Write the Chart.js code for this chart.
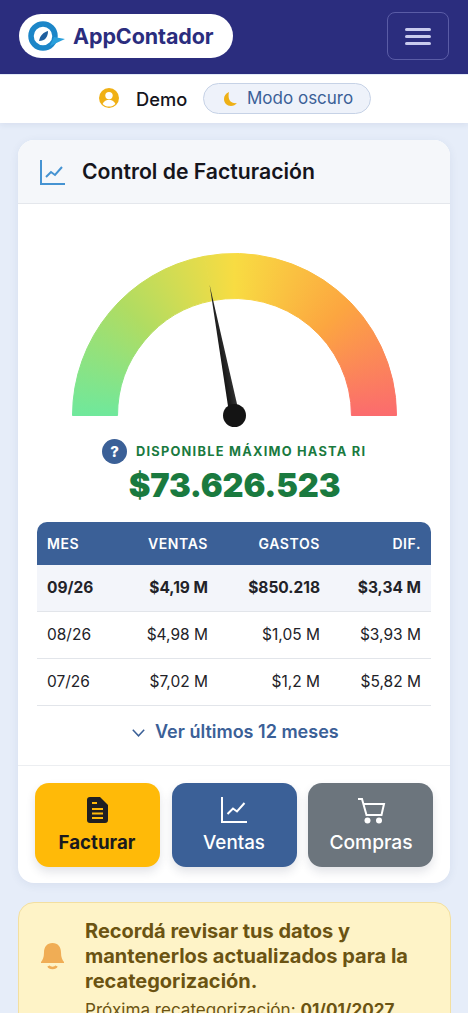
<!DOCTYPE html>
<html lang="es"><head><meta charset="utf-8">
<script src="https://cdn.jsdelivr.net/npm/chart.js@4"></script>
<style>
html,body{margin:0;padding:0}
body{width:468px;height:1013px;overflow:hidden;background:#e6edf9;position:relative;font-family:Inter,"Noto Sans",sans-serif;color:#15151c}
.b{position:absolute}
.t{position:absolute;white-space:nowrap;transform:translateY(-50%);line-height:1}
.r{transform:translate(-100%,-50%)}
.c{transform:translate(-50%,-50%)}
svg{position:absolute;overflow:visible}
</style></head><body>
<div class="b" style="left:0;top:0;width:468px;height:74px;background:#2b2d7e"></div>
<div class="b" style="left:19px;top:14px;width:214px;height:44px;border-radius:22px;background:#fff"></div>
<svg style="left:28px;top:20px" width="38" height="32" viewBox="0 0 38 32"><circle cx="15" cy="16" r="12" fill="none" stroke="#1c86c8" stroke-width="5.5"/><path d="M22 26 L37 19 L26 17Z" fill="#2aa0dc"/><path d="M11 21c1-6 5-9 9-10-0 6-3 10-9 10z" fill="#1f5f9e"/></svg>
<div class="t" style="left:73px;top:37px;font-size:21.5px;font-weight:700;color:#2b2d7e;letter-spacing:-.1px">AppContador</div>
<div class="b" style="left:387px;top:12px;width:62px;height:48px;box-sizing:border-box;border:1px solid #5a5ca6;border-radius:8px"></div>
<div class="b" style="left:405px;top:28px;width:26px;height:2.5px;background:#c9cbee;border-radius:2px"></div>
<div class="b" style="left:405px;top:35px;width:26px;height:2.5px;background:#c9cbee;border-radius:2px"></div>
<div class="b" style="left:405px;top:42px;width:26px;height:2.5px;background:#c9cbee;border-radius:2px"></div>

<div class="b" style="left:0;top:74.5px;width:468px;height:48.5px;background:#fff;box-shadow:0 2px 6px rgba(40,60,110,.08)"></div>
<svg style="left:99px;top:88px" width="20" height="20" viewBox="0 0 20 20"><circle cx="10" cy="10" r="10" fill="#f0b015"/><circle cx="10" cy="7.6" r="3.7" fill="#fff"/><path d="M3.6 16c1.4-3 3.8-4.2 6.4-4.2s5 1.2 6.4 4.2c-1.6 1.6-3.9 2.6-6.4 2.6s-4.8-1-6.4-2.6z" fill="#fff"/></svg>
<div class="t" style="left:136px;top:98.5px;font-size:18.3px;font-weight:500">Demo</div>
<div class="b" style="left:203px;top:83px;width:168px;height:31px;box-sizing:border-box;border:1px solid #c6d2e6;border-radius:16px;background:#eef2fa"></div>
<svg style="left:223px;top:91px" width="15" height="16" viewBox="0 0 15 16"><path d="M6 1C2.600 2.500 1 5 1 8c0 4 3 7 7 7 2.500 0 4.500-1 5.800-3-4 .8-7.500-1.500-8-5C5.500 5 5.500 2.800 6 1z" fill="#eeb016"/></svg>
<div class="t" style="left:247px;top:98px;font-size:17px;color:#3b6097">Modo oscuro</div>

<div class="b" style="left:18px;top:140px;width:432px;height:743px;border-radius:16px;background:#fff;box-shadow:0 2px 10px rgba(40,60,110,.08)"></div>
<div class="b" style="left:18px;top:140px;width:432px;height:63px;border-radius:16px 16px 0 0;background:#f5f7fa;border-bottom:1px solid #e4e7ec"></div>
<svg style="left:40px;top:160px" width="25" height="25" viewBox="0 0 25 25" fill="none" stroke="#4593d2" stroke-width="2"><path d="M1 0V24H25"/><path d="M6 17l5-5 4 3 7-8" stroke-width="2"/></svg>
<div class="t" style="left:82px;top:171.500px;font-size:21.2px;font-weight:600">Control de Facturación</div>

<canvas id="gauge" class="b" width="325" height="179" style="left:71.5px;top:252.500px"></canvas>

<div class="b" style="left:102px;top:439px;width:25px;height:25px;border-radius:50%;background:#3b6097"></div>
<div class="t c" style="left:114.500px;top:451px;font-size:15px;font-weight:800;color:#fff">?</div>
<div class="t" style="left:136px;top:451.500px;font-size:12.800px;font-weight:700;color:#1a7a3f;letter-spacing:1.25px">DISPONIBLE MÁXIMO HASTA RI</div>
<div class="t c" style="left:234.500px;top:484.500px;font-size:32.600px;font-weight:900;color:#1a7a3f;letter-spacing:-.2px">$73.626.523</div>

<div class="b" style="left:37px;top:522px;width:394px;height:43px;border-radius:10px 10px 0 0;background:#3b6097"></div>
<div class="b" style="left:37px;top:565px;width:394px;height:46px;background:#f3f5fa"></div>
<div class="b" style="left:37px;top:611px;width:394px;height:1px;background:#e2e5ea"></div>
<div class="b" style="left:37px;top:658px;width:394px;height:1px;background:#e2e5ea"></div>
<div class="b" style="left:37px;top:705px;width:394px;height:1px;background:#e2e5ea"></div>
<svg style="left:132px;top:729px" width="13" height="8" viewBox="0 0 13 8" fill="none" stroke="#3b6097" stroke-width="1.500"><path d="M.8.800L6.500 6.800 12.200.800"/></svg>
<div class="t" style="left:155px;top:732px;font-size:18px;font-weight:600;color:#3b6097">Ver últimos 12 meses</div>
<div class="b" style="left:18px;top:765px;width:432px;height:1px;background:#eceef1"></div>

<div class="b" style="left:35px;top:782.500px;width:125px;height:84px;border-radius:14px;background:#ffba08;box-shadow:0 5px 10px rgba(40,50,80,.13)"></div>
<div class="b" style="left:171.500px;top:782.500px;width:125px;height:84px;border-radius:14px;background:#3b6097;box-shadow:0 5px 10px rgba(40,50,80,.13)"></div>
<div class="b" style="left:308px;top:782.500px;width:125px;height:84px;border-radius:14px;background:#6c757d;box-shadow:0 5px 10px rgba(40,50,80,.13)"></div>
<svg style="left:87px;top:797px" width="21" height="26" viewBox="0 0 21 26"><path d="M3 0H13L21 8V23a3 3 0 0 1-3 3H3a3 3 0 0 1-3-3V3A3 3 0 0 1 3 0z" fill="#1f1f22"/><g stroke="#ffba08" stroke-width="2"><path d="M5 6h5M5 12h11M5 16.500h11M5 21h11"/></g></svg>
<svg style="left:221px;top:797px" width="26" height="26" viewBox="0 0 26 26" fill="none" stroke="#fff" stroke-width="2"><path d="M1 0V25H26"/><path d="M6.500 17l5.500-5.500 4 3 7.500-8.500" stroke-width="2"/></svg>
<svg style="left:357px;top:798px" width="28" height="26" viewBox="0 0 28 26" fill="none" stroke="#fff" stroke-width="2"><path d="M1 1H5L9.500 17H24.500L27 6H6"/><circle cx="10.500" cy="22.500" r="3" fill="#fff" stroke="none"/><circle cx="22" cy="22.500" r="3" fill="#fff" stroke="none"/></svg>
<div class="t c" style="left:97px;top:842.500px;font-size:18.700px;font-weight:700;color:#1a1a1e">Facturar</div>
<div class="t c" style="left:234px;top:842.500px;font-size:18.800px;font-weight:500;color:#fff">Ventas</div>
<div class="t c" style="left:371px;top:842.500px;font-size:19.200px;font-weight:500;color:#fff">Compras</div>

<div class="b" style="left:17.500px;top:901.500px;width:433px;height:200px;box-sizing:border-box;border:1px solid #f3dfa0;border-radius:16px;background:#fef3c7"></div>
<svg style="left:41px;top:943px" width="23" height="28" viewBox="0 0 23 28"><path d="M11.500 0c5.500 0 8.500 4 8.500 9.500 0 5 1.500 8 3 9.500v1H0v-1c1.500-1.500 3-4.500 3-9.500C3 4 6 0 11.500 0z" fill="#f0ad55"/><path d="M7.500 23c1 2.500 7 2.500 8 0" fill="none" stroke="#f0ad55" stroke-width="2.500"/></svg>
<div class="t" style="left:85px;top:931px;font-size:20px;font-weight:700;color:#6b5312">Recordá revisar tus datos y</div>
<div class="t" style="left:85px;top:956px;font-size:20px;font-weight:700;color:#6b5312">mantenerlos actualizados para la</div>
<div class="t" style="left:85px;top:981px;font-size:20px;font-weight:700;color:#6b5312">recategorización.</div>
<div class="t" style="left:85px;top:1010px;font-size:17.100px;color:#6b5312">Próxima recategorización: <b>01/01/2027</b></div>

<script>
const gaugeLabels = ['Usado', 'Disponible'];
const gaugeValues = [44, 56];
const tableHeaders = ['MES', 'VENTAS', 'GASTOS', 'DIF.'];
const months = ['09/26', '08/26', '07/26'];
const ventas = ['$4,19 M', '$4,98 M', '$7,02 M'];
const gastos = ['$850.218', '$1,05 M', '$1,2 M'];
const diferencia = ['$3,34 M', '$3,93 M', '$5,82 M'];

function put(text, anchor, x, y, css) {
  const d = document.createElement('div');
  d.className = 't' + (anchor === 'r' ? ' r' : '');
  d.textContent = text;
  d.style.cssText = `left:${x}px;top:${y}px;` + css;
  document.body.appendChild(d);
}
const colX = [47, 208, 320, 421];
const rowY = [587.5, 634.5, 681.5];
tableHeaders.forEach((h, i) => put(h, i ? 'r' : 'l', colX[i], 543.5,
  'font-size:14px;font-weight:600;color:#fff;letter-spacing:.6px'));
months.forEach((m, i) => {
  const css = 'font-size:15.5px;color:#222228;' + (i === 0 ? 'font-weight:700' : 'font-weight:400');
  put(m, 'l', colX[0], rowY[i], css);
  put(ventas[i], 'r', colX[1], rowY[i], css);
  put(gastos[i], 'r', colX[2], rowY[i], css);
  put(diferencia[i], 'r', colX[3], rowY[i], css);
});

function arcGradient(context) {
  const { chart } = context;
  const a = chart.chartArea;
  if (!a) return '#f7dc40';
  const g = chart.ctx.createConicGradient(Math.PI, (a.left + a.right) / 2, a.bottom);
  g.addColorStop(0, '#6fe89c');
  g.addColorStop(0.125, '#b0dc62');
  g.addColorStop(0.25, '#f8dc42');
  g.addColorStop(0.375, '#fca640');
  g.addColorStop(0.5, '#fb6b6e');
  g.addColorStop(0.75, '#fb6b6e');
  g.addColorStop(1, '#6fe89c');
  return g;
}
const needle = {
  id: 'needle',
  afterDatasetsDraw(chart) {
    const arc = chart.getDatasetMeta(0).data[0];
    const ang = arc.endAngle, cx = arc.x, cy = arc.y, c = chart.ctx;
    const len = 133;
    c.save();
    c.translate(cx, cy);
    c.rotate(ang);
    c.beginPath();
    c.moveTo(0, -5);
    c.lineTo(len, 0);
    c.lineTo(0, 5);
    c.closePath();
    const g = c.createLinearGradient(0, -5, 0, 5);
    g.addColorStop(0, '#111');
    g.addColorStop(1, '#333');
    c.fillStyle = g;
    c.fill();
    c.restore();
    c.beginPath();
    c.arc(cx, cy, 11.5, 0, Math.PI * 2);
    c.fillStyle = '#141414';
    c.fill();
  }
};
new Chart(document.getElementById('gauge'), {
  type: 'doughnut',
  data: { labels: gaugeLabels, datasets: [{ data: gaugeValues, backgroundColor: arcGradient, borderColor: arcGradient, borderWidth: 1, borderAlign: 'center', hoverOffset: 0, spacing: 0 }] },
  options: {
    responsive: false, animation: false, rotation: -90, circumference: 180, cutout: '72.2%',
    layout: { padding: { bottom: 16 } },
    plugins: { legend: { display: false }, tooltip: { enabled: false } },
    events: []
  },
  plugins: [needle]
});
</script>
</body></html>
